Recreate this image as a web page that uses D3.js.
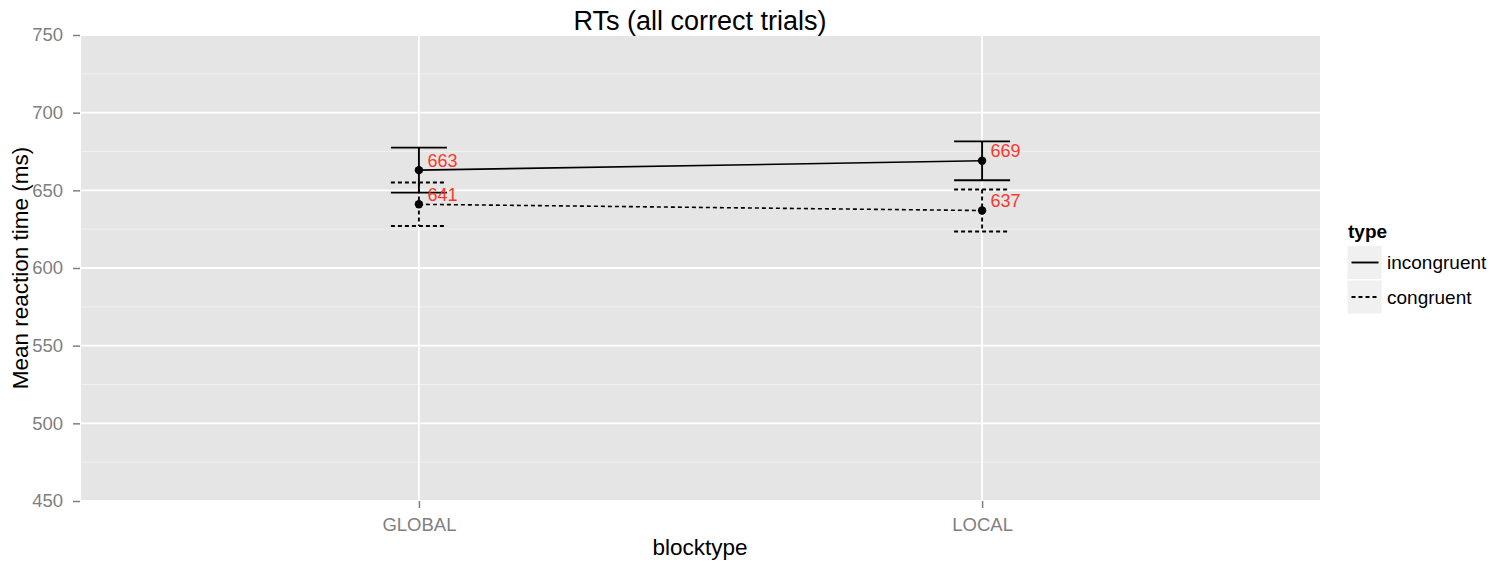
<!DOCTYPE html>
<html>
<head>
<meta charset="utf-8">
<script src="https://cdn.jsdelivr.net/npm/d3@7"></script>
<style>
  body { margin: 0; background: #fff; }
  svg { display: block; font-family: "Liberation Sans", Arial, sans-serif; }
</style>
</head>
<body>
<svg id="chart" width="1509" height="566"></svg>
<script>
// Block types on the x axis
const blocktypes = ["GLOBAL", "LOCAL"];
// Trial types (legend order)
const types = ["incongruent", "congruent"];
// Mean RTs per type, one value per block type
const incongruentMeans = [663, 669];
const congruentMeans = [641, 637];
// Standard-error half widths
const incongruentErr = [14.5, 12.5];
const congruentErr = [14, 13.5];
// Printed labels
const incongruentLabels = ["663", "669"];
const congruentLabels = ["641", "637"];
// Y axis ticks
const yTicks = [450, 500, 550, 600, 650, 700, 750];
const yMinor = [475, 525, 575, 625, 675, 725];

const series = [
  { type: types[0], means: incongruentMeans, err: incongruentErr, labels: incongruentLabels, dash: null },
  { type: types[1], means: congruentMeans, err: congruentErr, labels: congruentLabels, dash: "4,3" }
];

const svg = d3.select("#chart");
const panel = { left: 81, right: 1320, top: 35, bottom: 501 };

const y = d3.scaleLinear().domain([450, 750]).range([501, 35]);
// discrete positions with an expansion of 0.6 units on each side
const xc = d3.scaleLinear().domain([0.4, blocktypes.length + 0.6]).range([panel.left, panel.right]);
const x = d => xc(blocktypes.indexOf(d) + 1);

// panel background
svg.append("rect")
  .attr("x", panel.left).attr("y", panel.top)
  .attr("width", panel.right - panel.left).attr("height", panel.bottom - panel.top)
  .attr("fill", "#e5e5e5");

// minor grid
svg.append("g").selectAll("line").data(yMinor).join("line")
  .attr("x1", panel.left).attr("x2", panel.right)
  .attr("y1", d => y(d)).attr("y2", d => y(d))
  .attr("stroke", "#f2f2f2").attr("stroke-width", 0.8);

// major grid
svg.append("g").selectAll("line").data(yTicks).join("line")
  .attr("x1", panel.left).attr("x2", panel.right)
  .attr("y1", d => y(d)).attr("y2", d => y(d))
  .attr("stroke", "#ffffff").attr("stroke-width", 1.8);
svg.append("g").selectAll("line").data(blocktypes).join("line")
  .attr("x1", d => x(d)).attr("x2", d => x(d))
  .attr("y1", panel.top).attr("y2", panel.bottom)
  .attr("stroke", "#ffffff").attr("stroke-width", 1.8);

const tickFont = 18.5;

// y axis
const yAxis = d3.axisLeft(y).tickValues(yTicks).tickSize(7).tickPadding(10);
const gy = svg.append("g").attr("transform", `translate(${panel.left - 1},0)`).call(yAxis);
gy.select(".domain").remove();
gy.selectAll(".tick line").attr("stroke", "#7f7f7f").attr("stroke-width", 1.5);
gy.selectAll(".tick text").attr("fill", "#7f7f7f").attr("font-size", tickFont)
  .attr("font-family", "Liberation Sans, Arial, sans-serif");

// x axis
const xAxisScale = d3.scalePoint().domain(blocktypes).range([x(blocktypes[0]), x(blocktypes[1])]);
const xAxis = d3.axisBottom(xAxisScale).tickSize(7).tickPadding(9.5);
const gx = svg.append("g").attr("transform", `translate(0,${panel.bottom})`).call(xAxis);
gx.select(".domain").remove();
gx.selectAll(".tick line").attr("stroke", "#7f7f7f").attr("stroke-width", 1.5);
gx.selectAll(".tick text").attr("fill", "#7f7f7f").attr("font-size", tickFont)
  .attr("font-family", "Liberation Sans, Arial, sans-serif");

// connecting lines
const line = d3.line().x(d => x(d.b)).y(d => y(d.v));
series.forEach(s => {
  const pts = blocktypes.map((b, i) => ({ b, v: s.means[i] }));
  svg.append("path").datum(pts)
    .attr("d", line).attr("fill", "none")
    .attr("stroke", "#000").attr("stroke-width", 1.6)
    .attr("stroke-dasharray", s.dash);
});

// error bars
const capHalf = 28;
series.forEach(s => {
  const g = svg.append("g").attr("stroke", "#000").attr("stroke-width", 1.9)
    .attr("stroke-dasharray", s.dash);
  blocktypes.forEach((b, i) => {
    const cx = x(b);
    const hi = s.means[i] + s.err[i], lo = s.means[i] - s.err[i];
    g.append("line").attr("x1", cx).attr("x2", cx).attr("y1", y(hi)).attr("y2", y(lo));
    g.append("line").attr("x1", cx - capHalf).attr("x2", cx + capHalf).attr("y1", y(hi)).attr("y2", y(hi));
    g.append("line").attr("x1", cx - capHalf).attr("x2", cx + capHalf).attr("y1", y(lo)).attr("y2", y(lo));
  });
});

// points
series.forEach(s => {
  svg.append("g").selectAll("circle").data(blocktypes).join("circle")
    .attr("cx", d => x(d)).attr("cy", (d, i) => y(s.means[i]))
    .attr("r", 4.2).attr("fill", "#000");
});

// value labels
series.forEach(s => {
  svg.append("g").selectAll("text").data(blocktypes).join("text")
    .attr("x", d => x(d) + 8.5).attr("y", (d, i) => y(s.means[i]) - 3.5)
    .attr("fill", "#f8392d").attr("font-size", 18)
    .text((d, i) => s.labels[i]);
});

// title
svg.append("text").attr("x", 700).attr("y", 30).attr("text-anchor", "middle")
  .attr("font-size", 27).attr("fill", "#000").text("RTs (all correct trials)");

// axis titles
svg.append("text").attr("x", 700).attr("y", 555).attr("text-anchor", "middle")
  .attr("font-size", 22.5).attr("fill", "#000").text("blocktype");
svg.append("text").attr("transform", "translate(27.5,268) rotate(-90)")
  .attr("text-anchor", "middle").attr("font-size", 22.5).attr("fill", "#000")
  .text("Mean reaction time (ms)");

// legend
const lg = svg.append("g").attr("transform", "translate(1348,0)");
lg.append("text").attr("x", 0).attr("y", 237.5).attr("font-size", 19)
  .attr("font-weight", "bold").attr("fill", "#000").text("type");
series.forEach((s, i) => {
  const top = 246 + i * 34.5;
  lg.append("rect").attr("x", -0.5).attr("y", top).attr("width", 34).attr("height", 33)
    .attr("fill", "#f0f0f0");
  lg.append("line").attr("x1", 3.5).attr("x2", 30.5).attr("y1", top + 16.5).attr("y2", top + 16.5)
    .attr("stroke", "#000").attr("stroke-width", 1.9).attr("stroke-dasharray", s.dash);
  lg.append("text").attr("x", 39).attr("y", top + 23).attr("font-size", 19)
    .attr("fill", "#000").text(s.type);
});
</script>
</body>
</html>
